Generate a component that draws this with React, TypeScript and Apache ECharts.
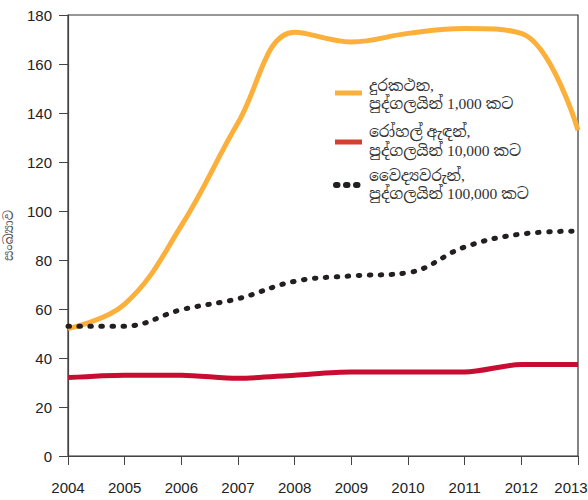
import React, { useEffect, useRef } from "react";
import * as echarts from "echarts";

const years = ["2004", "2005", "2006", "2007", "2008", "2009", "2010", "2011", "2012", "2013"];
const telephones = [52, 62, 94, 136, 173, 169, 172.5, 174.5, 172.5, 133];
const hospitalBeds = [32, 33, 33, 31.7, 33, 34.3, 34.3, 34.3, 37.3, 37.3];
const doctors = [53, 53, 59.7, 64.2, 71.3, 73.5, 74.8, 85.3, 90.6, 91.8];

const seriesNames = [
  ["දුරකථන,", "පුද්ගලයින් 1,000 කට"],
  ["රෝහල් ඇඳන්,", "පුද්ගලයින් 10,000 කට"],
  ["වෛද්‍යවරුන්,", "පුද්ගලයින් 100,000 කට"],
];
const yAxisName = "සංඛ්‍යාව";

const ORANGE = "#fbb03b";
const RED = "#c90c31";
const RED_LEGEND = "#d4402f";
const BLACK = "#231f20";
const FONT = "'Liberation Serif', 'Noto Serif Sinhala', 'Noto Sans Sinhala', serif";
const SANS = "'Liberation Sans', Arial, sans-serif";

export default function App() {
  const ref = useRef<HTMLDivElement>(null);
  useEffect(() => {
    document.body.style.margin = "0";
    const chart = echarts.init(ref.current!, null, { renderer: "svg" });
    const legendText = (idx: number, y1: number, y2: number) => [
      {
        type: "text",
        left: 369,
        top: y1 - 9,
        style: { text: seriesNames[idx][0], fontSize: 15.5, fill: "#333", fontFamily: FONT },
      },
      {
        type: "text",
        left: 369,
        top: y2 - 9,
        style: { text: seriesNames[idx][1], fontSize: 15.5, fill: "#333", fontFamily: FONT },
      },
    ];
    chart.setOption({
      animation: false,
      grid: {
        left: 68,
        right: 10,
        top: 15,
        bottom: 44,
        containLabel: false,
        outerBoundsMode: "none",
        show: true,
        borderColor: "#333",
        borderWidth: 1.2,
        backgroundColor: "transparent",
      },
      xAxis: {
        type: "category",
        data: years,
        boundaryGap: false,
        axisLine: { show: true, lineStyle: { color: "#444", width: 1.2 } },
        axisTick: { show: true, interval: 0, length: 9, inside: false, lineStyle: { color: "#444" } },
        axisLabel: {
          interval: 0,
          color: "#222",
          fontSize: 15,
          margin: 24,
          hideOverlap: false,
          fontFamily: SANS,
          formatter: (v: string, i: number) => (i === years.length - 1 ? `{last|${v}}` : v),
          rich: {
            last: { color: "#222", fontSize: 15, fontFamily: SANS, padding: [0, 14, 0, 0] },
          },
        },
        splitLine: { show: false },
      },
      yAxis: {
        type: "value",
        min: 0,
        max: 180,
        interval: 20,
        name: yAxisName,
        nameLocation: "middle",
        nameGap: 53,
        nameRotate: 90,
        nameTextStyle: { color: "#555", fontSize: 13, fontFamily: FONT },
        axisLine: { show: true, lineStyle: { color: "#444", width: 1.2 } },
        axisTick: { show: true, length: 9, lineStyle: { color: "#444" } },
        axisLabel: { color: "#222", fontSize: 15, margin: 16, fontFamily: SANS },
        splitLine: { show: false },
      },
      series: [
        {
          name: seriesNames[0].join(" "),
          type: "line",
          data: telephones,
          smooth: 0.4,
          symbol: "none",
          lineStyle: { color: ORANGE, width: 5 },
          z: 3,
        },
        {
          name: seriesNames[1].join(" "),
          type: "line",
          data: hospitalBeds,
          smooth: 0.3,
          symbol: "none",
          lineStyle: { color: RED, width: 5 },
          z: 2,
        },
        {
          name: seriesNames[2].join(" "),
          type: "line",
          data: doctors,
          smooth: 0.4,
          symbol: "none",
          lineStyle: { color: BLACK, width: 5, type: [1.5, 9.5], cap: "round" },
          z: 4,
        },
      ],
      graphic: [
        {
          type: "line",
          shape: { x1: 335, y1: 93, x2: 362, y2: 93 },
          style: { stroke: ORANGE, lineWidth: 5 },
        },
        {
          type: "line",
          shape: { x1: 335, y1: 142, x2: 362, y2: 142 },
          style: { stroke: RED_LEGEND, lineWidth: 5 },
        },
        {
          type: "line",
          shape: { x1: 336, y1: 185, x2: 360, y2: 185 },
          style: { stroke: BLACK, lineWidth: 6, lineDash: [1.5, 8.5], lineCap: "round" },
        },
        ...legendText(0, 86, 104),
        ...legendText(1, 132, 151),
        ...legendText(2, 176, 194),
      ],
    });
    return () => chart.dispose();
  }, []);
  return <div ref={ref} style={{ width: 588, height: 500 }} />;
}
